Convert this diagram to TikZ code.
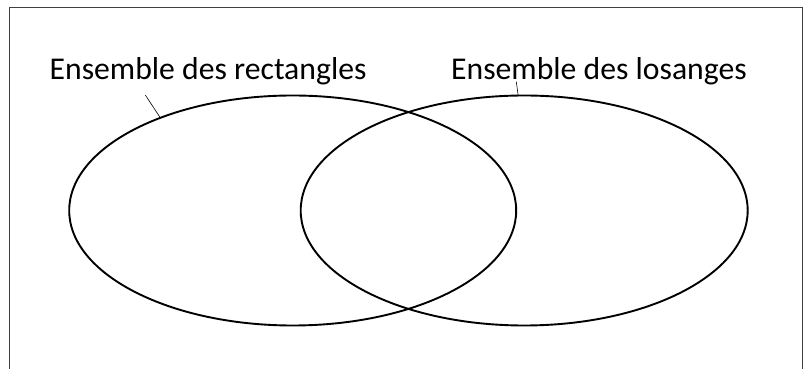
\documentclass[tikz,border=0pt]{standalone}
\usepackage{fontspec}
\setmainfont{Carlito}
\usetikzlibrary{shapes.geometric}
\pgfdeclarelayer{bg}
\pgfsetlayers{bg,main}
\tikzset{
    ens/.style={ellipse, draw, line width=1.9pt, inner sep=0mm, outer sep=0mm, minimum width=447pt, minimum height=230pt},
    txt/.style={anchor=base west, inner sep=0mm, font=\fontsize{31.7}{36}\selectfont}
}

\begin{document}
\begin{tikzpicture}[x=1pt, y=1pt]
        \useasboundingbox (0,0) rectangle (809,369);
        \node (e0) [ens] at (292.7, 158.5) {};
        \node (e1) [ens] at (524.2, 158.5) {};
        \node (t0) [txt] at (49.5, 289.6) {Ensemble des rectangles};
        \node (t1) [txt] at (451, 289.2) {Ensemble des losanges};
        \coordinate (p0) at (145.3, 274);
        \coordinate (p1) at (516.3, 287.3);
        \begin{pgfonlayer}{bg}
                \draw [black!75, line width=0.9pt] (9,0) -- (9,362) -- (802,362) -- (802,0);
                \draw [line width=0.6pt] (p0) -- (e0.145.75);
                \draw [line width=0.6pt] (p1) -- (e1.93.9);
        \end{pgfonlayer}
\end{tikzpicture}
\end{document}
